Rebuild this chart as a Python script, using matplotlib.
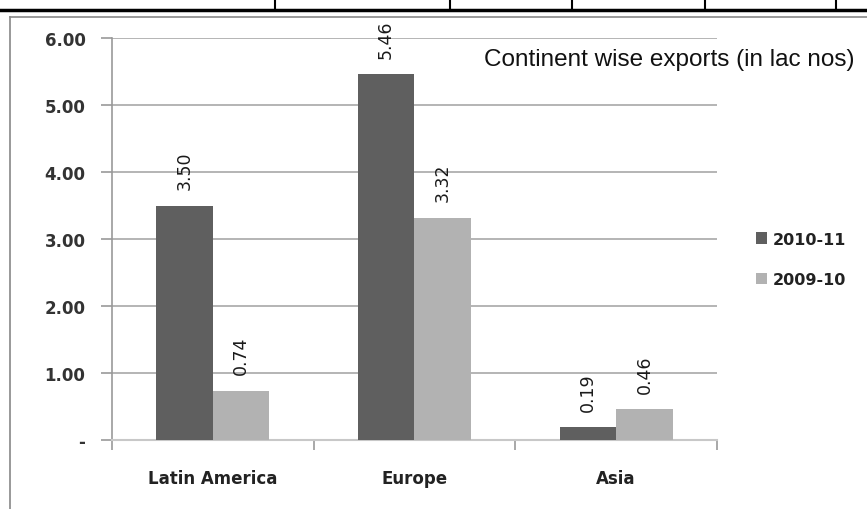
import numpy as np
import matplotlib
matplotlib.use("Agg")
import matplotlib.pyplot as plt
from matplotlib.lines import Line2D

# Data
continents = ["Latin America", "Europe", "Asia"]
exports_2010_11 = [3.50, 5.46, 0.19]
exports_2009_10 = [0.74, 3.32, 0.46]
series_names = ["2010-11", "2009-10"]
ytick_values = [0, 1, 2, 3, 4, 5, 6]
ytick_labels = ["-", "1.00", "2.00", "3.00", "4.00", "5.00", "6.00"]

dark = "#5f5f5f"
light = "#b2b2b2"

fig = plt.figure(figsize=(8.67, 5.10), dpi=100)
ax = fig.add_axes([0.129, 0.135, 0.698, 0.788])

x = np.arange(len(continents))
w = 0.28
b1 = ax.bar(x - w / 2, exports_2010_11, w, color=dark, label=series_names[0], zorder=3)
b2 = ax.bar(x + w / 2, exports_2009_10, w, color=light, label=series_names[1], zorder=3)

# value labels, rotated like the excel ones
for bars, vals in [(b1, exports_2010_11), (b2, exports_2009_10)]:
    for rect, v in zip(bars, vals):
        ax.annotate("%.2f" % v, (rect.get_x() + rect.get_width() / 2, rect.get_height()),
                    xytext=(0, 12), textcoords="offset points", rotation=90,
                    ha="center", va="bottom", fontsize=12.5, color="#1a1a1a", zorder=4)

ax.set_xlim(-0.5, len(continents) - 0.5)
ax.set_ylim(0, 6)
ax.set_yticks(ytick_values)
ax.set_yticklabels(ytick_labels, fontsize=12, fontweight="bold", color="#333333")
ax.yaxis.grid(True, color="#a8a8a8", linewidth=1.2, zorder=0)

# category labels in the middle, tick marks on the boundaries
ax.set_xticks(x)
ax.set_xticklabels(continents, fontsize=12, fontweight="bold", color="#222222")
ax.tick_params(axis="x", length=0, pad=21)
ax.set_xticks(np.arange(-0.5, len(continents), 1.0), minor=True)
ax.tick_params(axis="x", which="minor", length=7, color="#999999", width=1.2)
ax.tick_params(axis="y", length=8, color="#999999", width=1.2, pad=11)

for s in ["top", "right"]:
    ax.spines[s].set_visible(False)
ax.spines["left"].set_color("#999999")
ax.spines["bottom"].set_color("#c8c8c8")
ax.spines["left"].set_linewidth(1.2)
ax.spines["bottom"].set_linewidth(1.5)

fig.text(0.986, 0.882, "Continent wise exports (in lac nos)", ha="right", va="center",
         fontsize=17.5, family="Liberation Sans", color="#111111")

leg = ax.legend(loc="center left", bbox_to_anchor=(1.04, 0.45), frameon=False,
                handlelength=0.7, handleheight=0.7, handletextpad=0.4,
                labelspacing=1.6, prop={"size": 11.5, "weight": "bold"})
for t in leg.get_texts():
    t.set_color("#222222")

# bits of the surrounding table and the chart frame
fig.add_artist(Line2D([0, 1], [0.978, 0.978], transform=fig.transFigure, color="black", lw=2.5))
for xt in [275, 450, 572, 705, 836]:
    fig.add_artist(Line2D([xt / 867, xt / 867], [0.978, 1.0], transform=fig.transFigure,
                          color="black", lw=1.5))
fig.add_artist(Line2D([10 / 867, 1], [0.965, 0.965], transform=fig.transFigure, color="#888888", lw=1.2))
fig.add_artist(Line2D([10 / 867, 10 / 867], [0, 0.965], transform=fig.transFigure, color="#888888", lw=1.2))

fig.savefig("out.png", dpi=100)
